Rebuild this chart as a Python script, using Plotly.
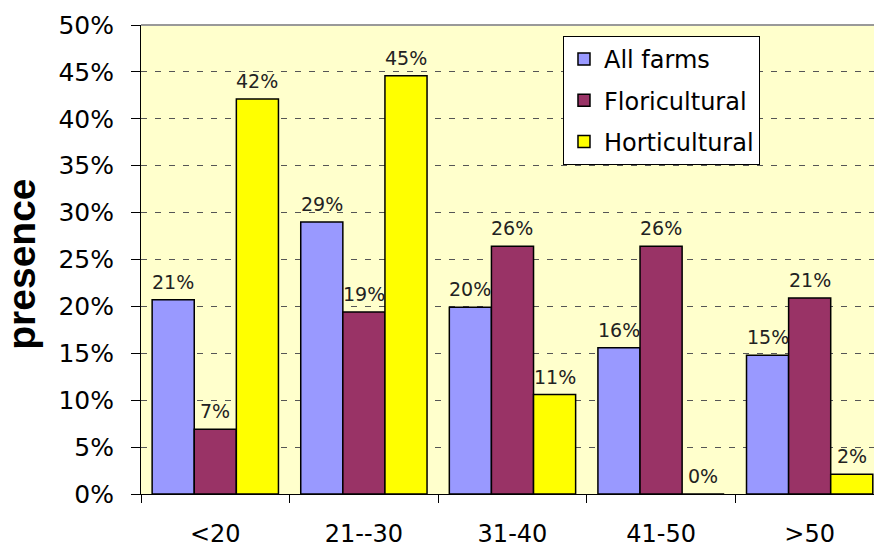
import plotly.graph_objects as go

# Age classes and share of presence per farm type
age_classes = ["<20", "21--30", "31-40", "41-50", ">50"]
all_farms = [0.207, 0.290, 0.199, 0.156, 0.148]
floricultural = [0.069, 0.194, 0.264, 0.264, 0.209]
horticultural = [0.421, 0.446, 0.106, 0.0, 0.021]
y_ticks = [0.0, 0.05, 0.10, 0.15, 0.20, 0.25, 0.30, 0.35, 0.40, 0.45, 0.50]

series = [
    ("All farms", all_farms, "#9999FF"),
    ("Floricultural", floricultural, "#993366"),
    ("Horticultural", horticultural, "#FFFF00"),
]

BARGAP = 0.15
bar_w = (1 - BARGAP) / len(series)

fig = go.Figure()
labels = []
for k, (name, values, color) in enumerate(series):
    fig.add_trace(go.Bar(
        x=age_classes,
        y=values,
        name=name,
        legendgroup=name,
        marker=dict(color=color, line=dict(color="black", width=1.5)),
        cliponaxis=False,
    ))
    # value labels centred above each bar of the group
    offset = (k - (len(series) - 1) / 2) * bar_w
    for i, v in enumerate(values):
        labels.append(dict(
            x=i + offset, y=v, xref="x", yref="y",
            text=f"{v:.0%}", showarrow=False,
            xanchor="center", yanchor="bottom", yshift=5,
            font=dict(family="DejaVu Sans", size=19, color="#222222"),
        ))

labels.append(dict(
    text="<b>presence</b>",
    xref="paper", yref="paper",
    x=-0.163, y=0.49,
    xanchor="center", yanchor="middle",
    textangle=-90, showarrow=False,
    font=dict(family="Liberation Sans", size=39, color="black"),
))

fig.update_layout(
    width=874,
    height=548,
    margin=dict(l=141, r=0, t=25, b=54, autoexpand=False),
    paper_bgcolor="white",
    plot_bgcolor="#FFFFCC",
    barmode="group",
    bargap=BARGAP,
    bargroupgap=0,
    font=dict(family="DejaVu Sans", color="black"),
    showlegend=True,
    legend=dict(
        x=0.5757, y=0.9765, xanchor="left", yanchor="top",
        bgcolor="white", bordercolor="black", borderwidth=1,
        font=dict(family="DejaVu Sans", size=24, color="black"),
        tracegroupgap=7,
        traceorder="grouped",
    ),
    xaxis=dict(
        type="category",
        range=[-0.5, 4.433],
        automargin=False,
        showline=True, linecolor="black", linewidth=1,
        ticks="outside", ticklen=8, tickcolor="black",
        tickson="boundaries",
        showgrid=False,
        tickfont=dict(family="DejaVu Sans", size=24, color="black"),
        ticklabelstandoff=18,
    ),
    yaxis=dict(
        range=[0, 0.5],
        automargin=False,
        tickvals=y_ticks,
        tickformat=".0%",
        showline=True, linecolor="black", linewidth=1,
        ticks="outside", ticklen=9, tickcolor="black",
        showgrid=True, gridcolor="#555555", gridwidth=1, griddash="6px,8px",
        zeroline=False,
        tickfont=dict(family="DejaVu Sans", size=25, color="black"),
        ticklabelstandoff=12,
    ),
    shapes=[dict(
        type="line", xref="paper", yref="paper",
        x0=0, x1=1, y0=1, y1=1,
        line=dict(color="#999999", width=2),
    )],
    annotations=labels,
)

fig.write_html("out.html")
